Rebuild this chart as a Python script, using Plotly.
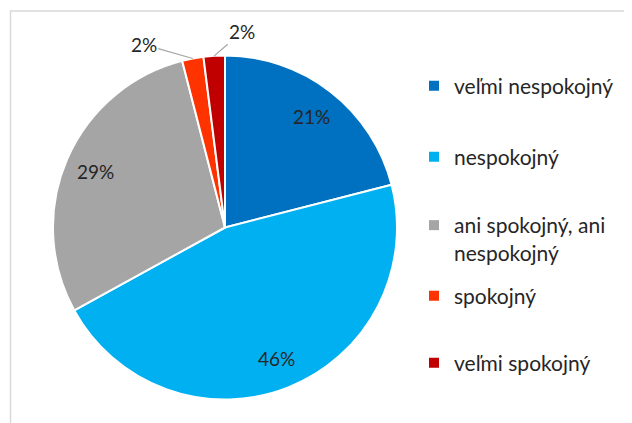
import math
import plotly.graph_objects as go

categories = ["veľmi nespokojný", "nespokojný", "ani spokojný, ani nespokojný", "spokojný", "veľmi spokojný"]
legend_labels = ["veľmi nespokojný", "nespokojný", "ani spokojný, ani<br>nespokojný", "spokojný", "veľmi spokojný"]
values = [21, 46, 29, 2, 2]
colors = ["#0070C0", "#00B0F0", "#A5A5A5", "#FF3300", "#C00000"]

W, H = 632, 423
OFF = 8                      # page body margin of the browser
FONT = "Lato"
TXT = "#262626"

# pie geometry (in page pixels of the original)
cx, cy, r = 225 - OFF, 227.5 - OFF, 172
label_r = 0.82 * r

# labels: inside (None) or outside with (dx, dy) pixel offset of the text from the slice edge
outside_offsets = [None, None, None, (-49, -14), (28, -24)]
# legend entry centre heights (page pixels of the original)
legend_y = [86, 157, 239, 296, 363]
legend_x = 406

fig = go.Figure()
fig.add_trace(go.Pie(
    labels=categories,
    values=values,
    sort=False,
    direction="clockwise",
    rotation=0,
    marker=dict(colors=colors, line=dict(color="white", width=2)),
    textinfo="none",
    showlegend=False,
    domain=dict(x=[(cx - r) / W, (cx + r) / W], y=[1 - (cy + r) / H, 1 - (cy - r) / H]),
    hovertemplate="%{label}: %{percent:.0%}<extra></extra>",
))

# legend entries (one legend per entry so the spacing follows the original)
layout_legends = {}
for i, (lab, col) in enumerate(zip(legend_labels, colors)):
    key = "legend" if i == 0 else f"legend{i + 1}"
    fig.add_trace(go.Scatter(
        x=[None], y=[None], mode="markers", name=lab,
        marker=dict(symbol="square", size=10, color=col),
        legend=key, showlegend=True, hoverinfo="skip",
    ))
    layout_legends[key] = dict(
        x=legend_x / W, y=1 - (legend_y[i] - OFF) / H,
        xanchor="left", yanchor="middle", valign="top",
        font=dict(family=FONT, size=21, color=TXT),
        bgcolor="rgba(0,0,0,0)", borderwidth=0,
    )

# percentage labels placed from the slice angles
total = sum(values)
annotations = []
cum = 0
for v, off in zip(values, outside_offsets):
    mid = (cum + v / 2) / total * 2 * math.pi
    cum += v
    pct = f"{round(v / total * 100)}%"
    if off is None:
        px = cx + label_r * math.sin(mid)
        py = cy - label_r * math.cos(mid)
        annotations.append(dict(x=px / W, y=1 - py / H, xref="paper", yref="paper",
                                xanchor="center", yanchor="middle",
                                text=pct, showarrow=False,
                                font=dict(family=FONT, size=19, color=TXT)))
    else:
        ex = cx + r * math.sin(mid)
        ey = cy - r * math.cos(mid)
        annotations.append(dict(x=ex / W, y=1 - ey / H, xref="paper", yref="paper",
                                xanchor="center", yanchor="middle",
                                text=pct, showarrow=True, arrowhead=0, arrowwidth=1.2,
                                arrowcolor="#A6A6A6", ax=off[0], ay=off[1], standoff=0,
                                font=dict(family=FONT, size=19, color=TXT)))

fig.update_layout(
    width=W, height=H,
    margin=dict(l=0, r=0, t=0, b=0, autoexpand=False),
    paper_bgcolor="white",
    plot_bgcolor="white",
    xaxis=dict(visible=False),
    yaxis=dict(visible=False),
    font=dict(family=FONT, size=19, color=TXT),
    annotations=annotations,
    shapes=[dict(type="rect", xref="paper", yref="paper",
                 x0=(10.5 - OFF) / W, x1=(W + 5) / W, y0=-5 / H, y1=1 - (11 - OFF) / H,
                 line=dict(color="#D9D9D9", width=1.5), layer="below")],
    **layout_legends,
)

fig.write_html("out.html")
